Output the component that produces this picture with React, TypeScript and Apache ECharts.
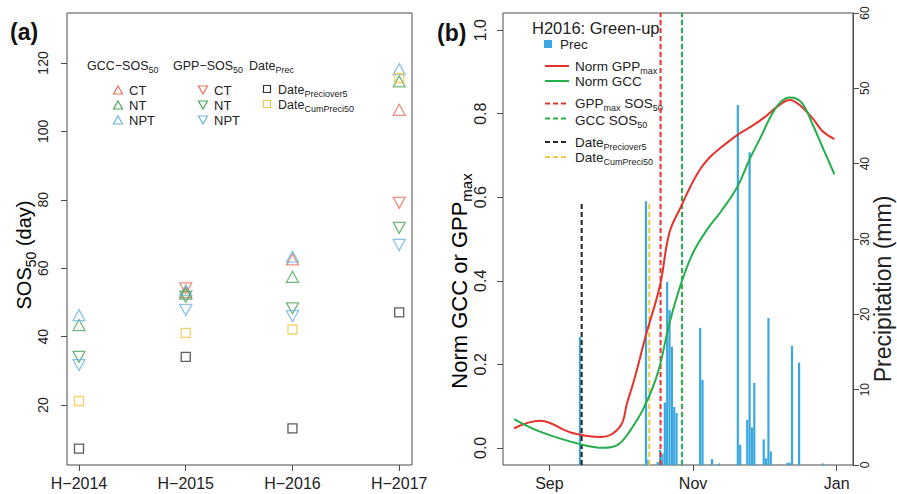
import React, { useEffect, useRef } from "react";
import * as echarts from "echarts";

// ---------- Panel (a) data ----------
const years = ["H\u22122014", "H\u22122015", "H\u22122016", "H\u22122017"];
const gccCT = [null, 53.0, 62.6, 106.3];
const gccNT = [43.4, 52.6, 57.5, 114.6];
const gccNPT = [46.3, 53.6, 63.4, 118.2];
const gppCT = [null, 54.1, null, 79.1];
const gppNT = [34.1, 51.7, 48.3, 71.8];
const gppNPT = [31.7, 47.8, 46.0, 66.8];
const datePreciover5 = [7.3, 34.1, 13.2, 47.1];
const dateCumPreci50 = [21.2, 41.1, 42.1, 115.6];
const sosTicks = [20, 40, 60, 80, 100, 120];

// ---------- Panel (b) data ----------
const startDate = "2016-09-01";
const monthTicks = ["2016-09-01", "2016-11-01", "2017-01-01"];
const monthLabels = ["Sep", "Nov", "Jan"];
const normTicks = [0, 0.2, 0.4, 0.6, 0.8, 1.0];
const precTicks = [0, 10, 20, 30, 40, 50, 60];

// days after 1 Sep 2016
const gppDays = [-15, -4, 9, 22, 30, 33, 36, 41, 47, 51, 56, 60, 64, 68, 72, 80, 85, 91, 97, 102, 106, 112, 116, 121];
const gppNorm = [0.047, 0.065, 0.037, 0.026, 0.051, 0.108, 0.163, 0.27, 0.39, 0.516, 0.579, 0.627, 0.667, 0.695, 0.715, 0.75, 0.767, 0.79, 0.818, 0.833, 0.822, 0.787, 0.758, 0.739];
const gccDays = [-15, -4, 13, 23, 29, 34, 40, 46, 51, 56, 61, 67, 73, 80, 85, 90, 94, 98, 102, 107, 112, 116, 121];
const gccNorm = [0.069, 0.039, 0.009, 0.0, 0.007, 0.039, 0.095, 0.179, 0.299, 0.395, 0.467, 0.523, 0.567, 0.627, 0.691, 0.747, 0.794, 0.827, 0.839, 0.827, 0.771, 0.719, 0.655];

const precDays = [13, 41, 42, 46, 47, 48, 49, 50, 51, 52, 53, 54, 64, 65, 69, 72, 80, 81, 84, 85, 86, 87, 91, 92, 93, 94, 101, 102, 103, 106, 116];
const precMm = [17.0, 35.0, 0.7, 0.4, 2.0, 1.5, 8.3, 24.3, 20.6, 15.7, 7.7, 6.9, 18.2, 11.3, 0.8, 0.2, 47.8, 2.7, 6.0, 41.5, 5.0, 10.9, 3.4, 0.9, 19.5, 1.8, 0.3, 0.3, 15.8, 13.6, 0.2];

const dayPreciover5 = 13.7;
const dayCumPreci50 = 42.4;
const dayGppSos50 = 47.2;
const dayGccSos50 = 56.3;
const shortLineTopMm = 35;

const FONT = "'Liberation Sans', Arial, Helvetica, sans-serif";
const C = {
  red: "#E9735B",
  green: "#4DA85A",
  blue: "#6DB5E6",
  yellow: "#F2C641",
  black: "#333333",
  lineRed: "#E5322B",
  lineGreen: "#25AE4A",
  bar: "#3AA8E0",
  axis: "#4a4a4a",
  text: "#222222",
};

const dayOf = (s: string) => Math.round((Date.parse(s) - Date.parse(startDate)) / 86400000);

export default function App() {
  const ref = useRef<HTMLDivElement>(null);
  useEffect(() => {
    if (!ref.current) return;
    const chart = echarts.init(ref.current, undefined, { renderer: "svg" });

    const tri = (name: string, data: (number | null)[], color: string, down: boolean) => ({
      type: "scatter",
      name,
      xAxisIndex: 0,
      yAxisIndex: 0,
      symbol: "triangle",
      symbolSize: [12, 11],
      symbolRotate: down ? 180 : 0,
      itemStyle: { color: "transparent", borderColor: color, borderWidth: 1.3 },
      data: data.map((v, i) => (v == null ? null : [i + 1, v])).filter((d) => d != null),
    });
    const sq = (name: string, data: number[], color: string) => ({
      type: "scatter",
      name,
      xAxisIndex: 0,
      yAxisIndex: 0,
      symbol: "rect",
      symbolSize: 9,
      itemStyle: { color: "transparent", borderColor: color, borderWidth: 1.3 },
      data: data.map((v, i) => [i + 1, v]),
    });

    const vline = (day: number, color: string, full: boolean) => ({
      type: "line",
      xAxisIndex: 1,
      yAxisIndex: full ? 1 : 2,
      symbol: "none",
      silent: true,
      lineStyle: { color, width: 2, type: [5, 3] },
      data: full ? [[day, -0.041], [day, 1.041]] : [[day, 0], [day, shortLineTopMm]],
      z: 3,
    });

    const rich = (size: number) => {
      const sub = Math.round(size * 0.68);
      return {
        n: { fontSize: size, fontFamily: FONT, color: C.text, lineHeight: size, verticalAlign: "top" },
        s: { fontSize: sub, fontFamily: FONT, color: C.text, lineHeight: Math.max(sub - 3, 1), verticalAlign: "top", padding: [Math.round(size * 0.5), 0, 0, 0] },
      };
    };
    const txt = (x: number, y: number, text: string, size: number, extra: any = {}) => ({
      type: "text",
      x,
      y,
      style: {
        text,
        fill: C.text,
        fontSize: size,
        fontFamily: FONT,
        align: "left",
        verticalAlign: "middle",
        rich: rich(size),
        ...extra,
      },
    });
    const triShape = (cx: number, cy: number, color: string, down: boolean) => ({
      type: "polygon",
      shape: {
        points: down
          ? [[cx - 4.5, cy - 4], [cx + 4.5, cy - 4], [cx, cy + 4]]
          : [[cx - 4.5, cy + 4], [cx + 4.5, cy + 4], [cx, cy - 4]],
      },
      style: { fill: "none", stroke: color, lineWidth: 1.2 },
    });
    const sqShape = (cx: number, cy: number, color: string) => ({
      type: "rect",
      shape: { x: cx - 3.5, y: cy - 3.5, width: 7, height: 7 },
      style: { fill: "none", stroke: color, lineWidth: 1.2 },
    });
    const legLine = (y: number, color: string, dashed: boolean) => ({
      type: "line",
      shape: { x1: 545, y1: y, x2: 569, y2: y },
      style: { stroke: color, lineWidth: 2, lineDash: dashed ? [5, 3] : null },
    });

    const graphic: any[] = [
      // panel labels
      { type: "text", x: 10, y: 32, style: { text: "(a)", fontSize: 23, fontWeight: "bold", fontFamily: FONT, fill: "#111", verticalAlign: "middle" } },
      { type: "text", x: 437, y: 33, style: { text: "(b)", fontSize: 23, fontWeight: "bold", fontFamily: FONT, fill: "#111", verticalAlign: "middle" } },
      // axis titles
      {
        type: "text", x: 24, y: 255, rotation: Math.PI / 2,
        style: { text: "{n|SOS}{s|50}{n| (day)}", align: "center", verticalAlign: "middle", rich: rich(20) },
      },
      {
        type: "text", x: 459, y: 281, rotation: Math.PI / 2,
        style: { text: "{n|Norm GCC or GPP}{s|max}", align: "center", verticalAlign: "middle", rich: rich(22) },
      },
      {
        type: "text", x: 883, y: 289, rotation: Math.PI / 2,
        style: { text: "Precipitation (mm)", align: "center", verticalAlign: "middle", fontSize: 23, fontFamily: FONT, fill: C.text },
      },
      // legend (a)
      txt(87, 66, "{n|GCC\u2212SOS}{s|50}", 12.5),
      txt(173, 66, "{n|GPP\u2212SOS}{s|50}", 12.5),
      txt(249, 66, "{n|Date}{s|Prec}", 12.5),
      triShape(118, 90, C.red, false),
      triShape(118, 105, C.green, false),
      triShape(118, 120, C.blue, false),
      txt(129, 90, "{n|CT}", 13),
      txt(129, 105, "{n|NT}", 13),
      txt(129, 120, "{n|NPT}", 13),
      triShape(203, 90, C.red, true),
      triShape(203, 105, C.green, true),
      triShape(203, 120, C.blue, true),
      txt(214, 90, "{n|CT}", 13),
      txt(214, 105, "{n|NT}", 13),
      txt(214, 120, "{n|NPT}", 13),
      sqShape(267, 89, C.black),
      sqShape(267, 104, C.yellow),
      txt(278, 90, "{n|Date}{s|Preciover5}", 12.5),
      txt(278, 105, "{n|Date}{s|CumPreci50}", 12.5),
      // legend (b)
      txt(532, 28, "{n|H2016: Green-up}", 16.5),
      { type: "rect", shape: { x: 544, y: 40, width: 8, height: 8 }, style: { fill: C.bar } },
      txt(560, 44, "{n|Prec}", 13.5),
      legLine(66, C.lineRed, false),
      legLine(81, C.lineGreen, false),
      legLine(103.5, C.lineRed, true),
      legLine(118.5, C.lineGreen, true),
      legLine(142, "#222222", true),
      legLine(157, C.yellow, true),
      txt(575, 66.5, "{n|Norm GPP}{s|max}", 13.5),
      txt(575, 81, "{n|Norm GCC}", 13.5),
      txt(575, 103, "{n|GPP}{s|max}{n| SOS}{s|50}", 13.5),
      txt(575, 120, "{n|GCC SOS}{s|50}", 13.5),
      txt(575, 142.5, "{n|Date}{s|Preciover5}", 13.5),
      txt(575, 157.5, "{n|Date}{s|CumPreci50}", 13.5),
    ];

    const tickLabelStyle = { color: C.text, fontSize: 14, fontFamily: FONT };
    const noZeroLine = { show: false, onZero: false };

    chart.setOption({
      animation: false,
      textStyle: { fontFamily: FONT },
      grid: [
        { left: 67, top: 13, width: 345, height: 452, show: true, borderColor: C.axis, borderWidth: 1, backgroundColor: "transparent" },
        { left: 503, top: 13, width: 350, height: 452, show: true, borderColor: C.axis, borderWidth: 1, backgroundColor: "transparent" },
      ],
      xAxis: [
        {
          type: "value", gridIndex: 0, min: 0.8875, max: 4.12,
          splitLine: { show: false },
          axisLine: noZeroLine,
          axisTick: { show: true, length: 6, lineStyle: { color: C.axis }, customValues: [1, 2, 3, 4] },
          axisLabel: { ...tickLabelStyle, fontSize: 16, margin: 10, customValues: [1, 2, 3, 4], formatter: (v: number) => years[Math.round(v) - 1] },
        },
        {
          type: "value", gridIndex: 1, min: -19.7, max: 128.9,
          splitLine: { show: false },
          axisLine: noZeroLine,
          axisTick: { show: true, length: 6, lineStyle: { color: C.axis }, customValues: monthTicks.map(dayOf) },
          axisLabel: {
            ...tickLabelStyle, fontSize: 16, margin: 10,
            customValues: monthTicks.map(dayOf),
            formatter: (v: number) => monthLabels[monthTicks.map(dayOf).indexOf(Math.round(v))] ?? "",
          },
        },
      ],
      yAxis: [
        {
          type: "value", gridIndex: 0, min: 2.5, max: 134.6,
          splitLine: { show: false },
          axisLine: noZeroLine,
          axisTick: { show: true, length: 6, lineStyle: { color: C.axis }, customValues: sosTicks },
          axisLabel: { ...tickLabelStyle, rotate: 90, margin: 17, customValues: sosTicks },
        },
        {
          type: "value", gridIndex: 1, min: -0.041, max: 1.041,
          splitLine: { show: false },
          axisLine: noZeroLine,
          axisTick: { show: true, length: 6, lineStyle: { color: C.axis }, customValues: normTicks },
          axisLabel: { ...tickLabelStyle, fontSize: 16, rotate: 90, margin: 15, customValues: normTicks, formatter: (v: number) => v.toFixed(1) },
        },
        {
          type: "value", gridIndex: 1, position: "right", min: 0, max: 60,
          splitLine: { show: false },
          axisLine: { show: true, onZero: false, lineStyle: { color: C.axis } },
          axisTick: { show: true, length: 6, lineStyle: { color: C.axis }, customValues: precTicks },
          axisLabel: { ...tickLabelStyle, fontSize: 12, rotate: 90, margin: 6, customValues: precTicks },
        },
      ],
      series: [
        tri("GCC CT", gccCT, C.red, false),
        tri("GCC NT", gccNT, C.green, false),
        tri("GCC NPT", gccNPT, C.blue, false),
        tri("GPP CT", gppCT, C.red, true),
        tri("GPP NT", gppNT, C.green, true),
        tri("GPP NPT", gppNPT, C.blue, true),
        sq("Date Preciover5", datePreciover5, C.black),
        sq("Date CumPreci50", dateCumPreci50, C.yellow),
        {
          type: "bar", name: "Prec", xAxisIndex: 1, yAxisIndex: 2,
          barWidth: 2.2, itemStyle: { color: C.bar },
          data: precDays.map((d, i) => [d, precMm[i]]),
          z: 2,
        },
        {
          type: "line", name: "Norm GPPmax", xAxisIndex: 1, yAxisIndex: 1,
          symbol: "none", smooth: 0.4, lineStyle: { color: C.lineRed, width: 2 },
          data: gppDays.map((d, i) => [d, gppNorm[i]]), z: 4,
        },
        {
          type: "line", name: "Norm GCC", xAxisIndex: 1, yAxisIndex: 1,
          symbol: "none", smooth: 0.4, lineStyle: { color: C.lineGreen, width: 2 },
          data: gccDays.map((d, i) => [d, gccNorm[i]]), z: 4,
        },
        vline(dayPreciover5, "#222222", false),
        vline(dayCumPreci50, C.yellow, false),
        vline(dayGppSos50, C.lineRed, true),
        vline(dayGccSos50, C.lineGreen, true),
      ],
      graphic,
    });
    return () => chart.dispose();
  }, []);
  return <div ref={ref} style={{ position: "absolute", left: 0, top: 0, width: 897, height: 494 }} />;
}
